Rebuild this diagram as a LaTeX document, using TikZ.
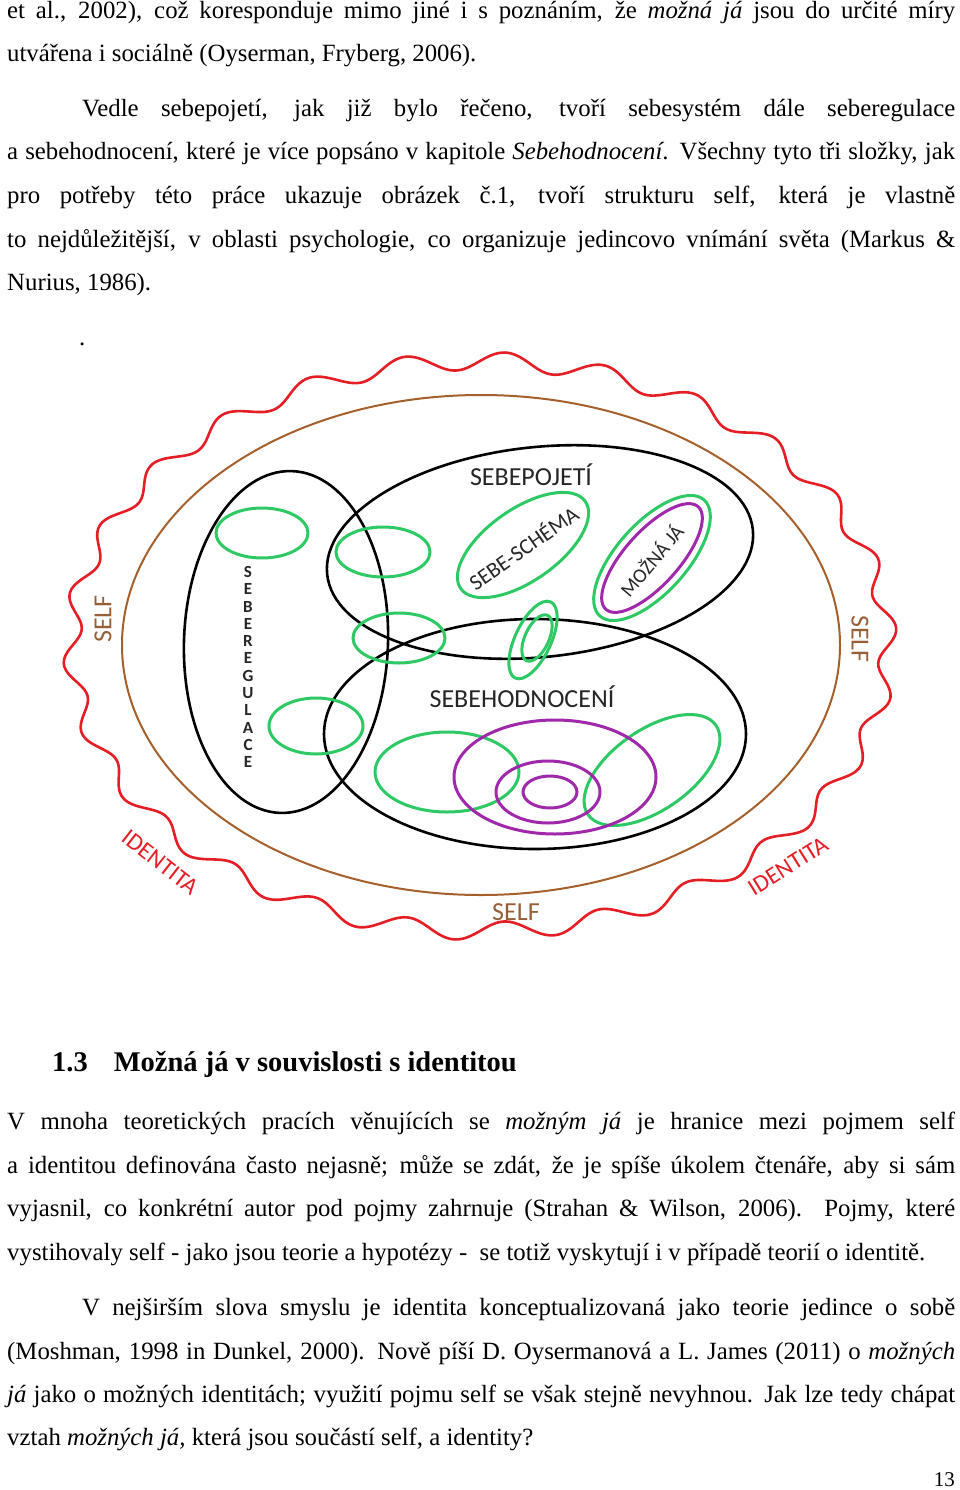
\documentclass[tikz,border=0pt]{standalone}
\usepackage{fontspec}
\setmainfont{Liberation Serif}
\newfontfamily\lab{Carlito}
\usetikzlibrary{positioning}
\definecolor{grn}{RGB}{46,200,100}
\definecolor{prp}{RGB}{160,40,170}
\definecolor{wred}{RGB}{228,30,36}
\definecolor{brwn}{RGB}{165,95,45}
\definecolor{selfc}{RGB}{150,95,55}
\newcommand{\jl}[1]{\hbox to 948pt{#1}}
\begin{document}
\begin{tikzpicture}[x=1pt,y=1pt]
\tikzstyle{txt}=[anchor=base west,inner sep=0pt,font=\fontsize{24.8}{26}\selectfont]
\tikzstyle{blk}=[black,line width=2.6pt]
\tikzstyle{gel}=[grn,line width=3pt]
\tikzstyle{pel}=[prp,line width=3pt]
\tikzstyle{tag}=[inner sep=0pt,text=black!85,font=\lab\fontsize{26}{26}\selectfont]
\tikzstyle{outer}=[inner sep=0pt,font=\lab\fontsize{26}{26}\selectfont]
\useasboundingbox (0,0) rectangle (960,-1490);
% text above
\node[txt] (l1) at (7,-19) {\jl{et al., 2002), což koresponduje mimo jiné i s poznáním, že \textit{možná já} jsou do určité míry}};
\node[txt] (l2) at (7,-62) {utvářena i sociálně (Oyserman, Fryberg, 2006).};
\node[txt] (l3) at (82,-117) {\hbox to 873pt{Vedle sebepojetí, jak již bylo řečeno, tvoří sebesystém dále seberegulace}};
\node[txt] (l4) at (7,-160) {\jl{a sebehodnocení, které je více popsáno v kapitole \textit{Sebehodnocení}. Všechny tyto tři složky, jak}};
\node[txt] (l5) at (7,-204) {\jl{pro potřeby této práce ukazuje obrázek č.1, tvoří strukturu self, která je vlastně}};
\node[txt] (l6) at (7,-247) {\jl{to nejdůležitější, v oblasti psychologie, co organizuje jedincovo vnímání světa (Markus \&}};
\node[txt] (l7) at (7,-290) {Nurius, 1986).};
\node[txt] (dot) at (79,-345) {.};
% diagram
\draw[wred,line width=2.6pt] plot[domain=0:360,samples=500,smooth]
  ({480+(408+9*sin(26*\x))*cos(\x)},{-646+(285+9*sin(26*\x))*sin(\x)});
\draw[brwn,line width=2pt] (481,-645) ellipse [x radius=359,y radius=250];
\draw[blk,rotate around={6:(540,-552)}] (540,-552) ellipse [x radius=214,y radius=105];
\draw[blk] (535,-734) ellipse [x radius=211,y radius=115];
\draw[blk,rotate around={-2:(286,-642)}] (286,-642) ellipse [x radius=102,y radius=171];
\draw[gel] (262,-533) ellipse [x radius=46,y radius=25];
\draw[gel] (383,-552) ellipse [x radius=47,y radius=25];
\draw[gel] (399,-638) ellipse [x radius=46,y radius=25];
\draw[gel] (316,-726) ellipse [x radius=47,y radius=28];
\draw[gel,rotate around={35:(523,-545)}] (523,-545) ellipse [x radius=76,y radius=36];
\draw[gel,rotate around={48:(652,-558)}] (652,-558) ellipse [x radius=78,y radius=35];
\draw[pel,rotate around={48:(652,-558)}] (652,-558) ellipse [x radius=69,y radius=27];
\draw[gel,rotate around={65:(533,-640)}] (533,-640) ellipse [x radius=42,y radius=18];
\draw[gel,rotate around={65:(537,-638)}] (537,-638) ellipse [x radius=25,y radius=12];
\draw[gel] (447,-772) ellipse [x radius=72,y radius=40];
\draw[gel,rotate around={35:(652,-770)}] (652,-770) ellipse [x radius=78,y radius=40];
\draw[pel] (555,-777) ellipse [x radius=101,y radius=57];
\draw[pel] (548,-792) ellipse [x radius=52,y radius=31];
\draw[pel] (550,-792) ellipse [x radius=27,y radius=16];
% labels
\node[tag] (pojeti) at (531,-475) {SEBEPOJETÍ};
\node[tag] (hodnoc) at (522,-697) {SEBEHODNOCENÍ};
\node[tag,rotate=35,font=\lab\fontsize{22}{22}\selectfont] (schema) at (523,-547) {SEBE-SCHÉMA};
\node[tag,rotate=50,font=\lab\fontsize{20}{20}\selectfont] (mozna) at (651,-560) {MOŽNÁ JÁ};
\node[tag,align=center,font=\lab\bfseries\fontsize{17}{17.3}\selectfont] (regul) at (248,-667)
  {S\\E\\B\\E\\R\\E\\G\\U\\L\\A\\C\\E};
\node[outer,text=selfc,rotate=90] (selfl) at (103,-619) {SELF};
\node[outer,text=selfc,rotate=-90] (selfr) at (860,-639) {SELF};
\node[outer,text=selfc] (selfb) at (516,-912) {SELF};
\node[outer,text=wred,rotate=-38,font=\lab\fontsize{24}{24}\selectfont] (identl) at (160,-862) {IDENTITA};
\node[outer,text=wred,rotate=32,font=\lab\fontsize{24}{24}\selectfont] (identr) at (788,-866) {IDENTITA};
% text below
\node[txt,font=\bfseries\fontsize{28.5}{30}\selectfont] (head) at (52,-1071) {1.3\hspace{26pt}Možná já v souvislosti s identitou};
\node[txt] (m1) at (7,-1129) {\jl{V mnoha teoretických pracích věnujících se \textit{možným já} je hranice mezi pojmem self}};
\node[txt] (m2) at (7,-1173) {\jl{a identitou definována často nejasně; může se zdát, že je spíše úkolem čtenáře, aby si sám}};
\node[txt] (m3) at (7,-1216) {\jl{vyjasnil, co konkrétní autor pod pojmy zahrnuje (Strahan \& Wilson, 2006). Pojmy, které}};
\node[txt] (m4) at (7,-1260) {vystihovaly self - jako jsou teorie a hypotézy - \ se totiž vyskytují i v případě teorií o identitě.};
\node[txt] (m5) at (82,-1315) {\hbox to 873pt{V nejširším slova smyslu je identita konceptualizovaná jako teorie jedince o sobě}};
\node[txt] (m6) at (7,-1359) {\jl{(Moshman, 1998 in Dunkel, 2000). Nově píší D. Oysermanová a L. James (2011) o \textit{možných}}};
\node[txt] (m7) at (7,-1402) {\jl{\textit{já} jako o možných identitách; využití pojmu self se však stejně nevyhnou. Jak lze tedy chápat}};
\node[txt] (m8) at (7,-1445) {vztah \textit{možných já,} která jsou součástí self, a identity?};
\node[txt,anchor=base east,font=\fontsize{21}{22}\selectfont] (pg) at (955,-1486) {13};
\end{tikzpicture}
\end{document}
